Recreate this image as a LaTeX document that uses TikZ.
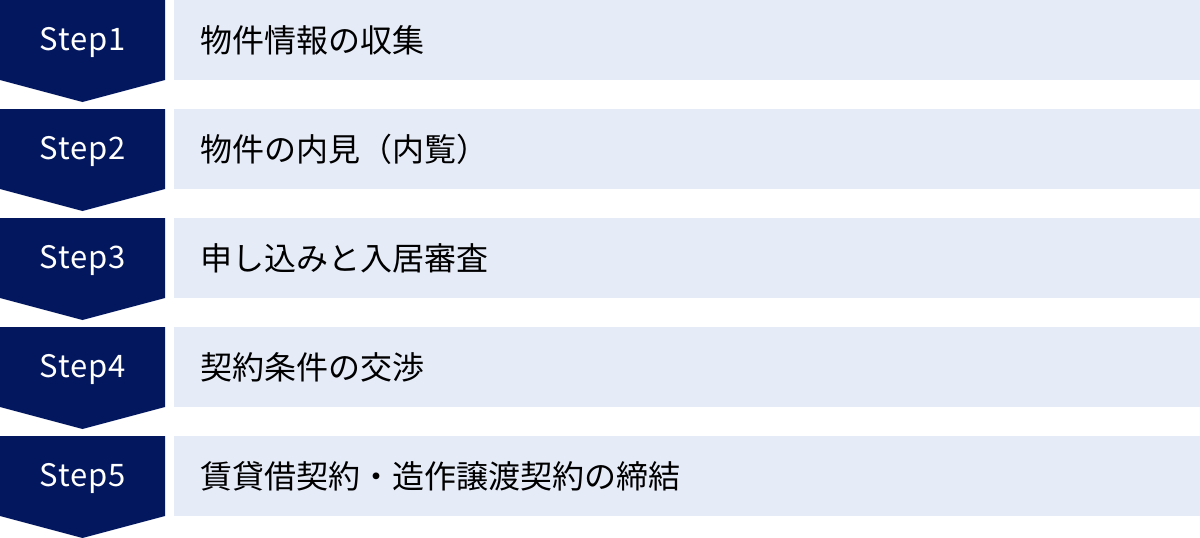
\documentclass[tikz,border=0pt]{standalone}
\usepackage{fontspec}
\setmainfont{Noto Sans}
\newfontfamily\jpfont{Noto Sans CJK JP}
\newfontfamily\stepfont[LetterSpace=3]{Noto Sans CJK JP}
\definecolor{navy}{HTML}{03175F}
\definecolor{lightbox}{HTML}{E6EBF8}
\begin{document}
\begin{tikzpicture}[x=1pt,y=-1pt,
  chevron/.style={fill=navy,draw=none},
  band/.style={fill=lightbox,draw=none},
  steplabel/.style={text=white,font=\stepfont\fontsize{31}{36}\selectfont,inner sep=0pt},
  itemlabel/.style={text=black,font=\jpfont\fontsize{32}{37}\selectfont,anchor=west,inner sep=0pt}]
\useasboundingbox (0,0) rectangle (1200,538);
\foreach \i/\t in {0/物件情報の収集,1/物件の内見（内覧）,2/申し込みと入居審査,3/契約条件の交渉,4/賃貸借契約・造作譲渡契約の締結}{
  \pgfmathsetmacro{\top}{109*\i}
  \pgfmathtruncatemacro{\n}{\i+1}
  \fill[chevron] (0,\top) -- (165,\top) -- (165,\top+80) -- (82.5,\top+102) -- (0,\top+80) -- cycle;
  \fill[band] (174,\top) rectangle (1200,\top+80);
  \node[steplabel] (step\n) at (83,\top+42.5) {Step\n};
  \node[itemlabel] (item\n) at (200,\top+40.5) {\t};
}
\end{tikzpicture}
\end{document}
